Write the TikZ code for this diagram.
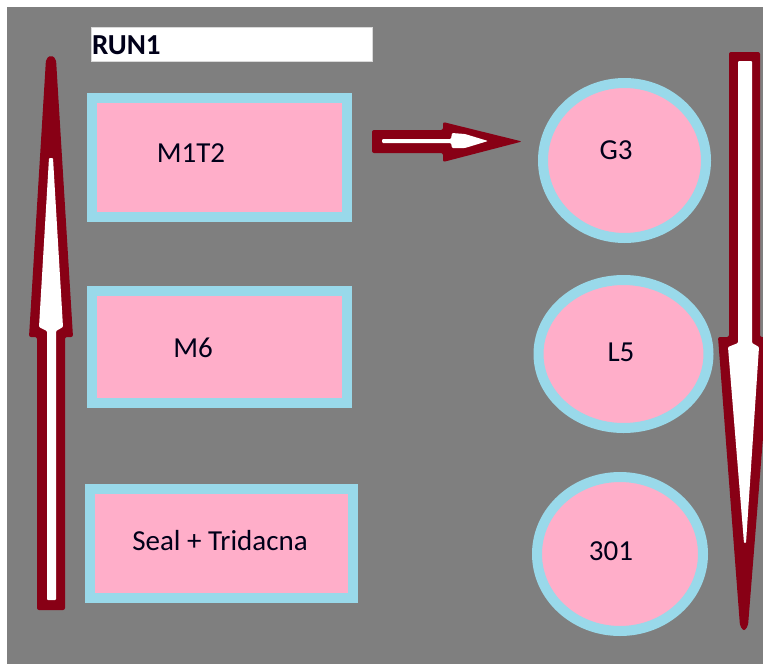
\documentclass[tikz,border=0pt]{standalone}
\usepackage{fontspec}
\setmainfont{Carlito}
\usetikzlibrary{shapes.geometric}
\definecolor{bggray}{HTML}{7F7F7F}
\definecolor{wine}{HTML}{880015}
\definecolor{rim}{HTML}{99D9EA}
\definecolor{blush}{HTML}{FFAEC9}
\tikzset{
  tile/.style={rectangle, draw=rim, fill=blush, line width=10pt, inner sep=0pt, outer sep=0pt},
  disc/.style={ellipse, draw=rim, fill=blush, line width=10pt, inner sep=0pt, outer sep=0pt},
  lbl/.style={inner sep=0pt, text=black!90!blue, font=\fontsize{29}{34}\selectfont},
  outerarrow/.style={fill=wine, rounded corners=2pt},
  innerarrow/.style={fill=white, rounded corners=1pt},
}
\begin{document}
\begin{tikzpicture}[x=1pt,y=-1pt]
% canvas
\useasboundingbox (0,0) rectangle (763,664);
\fill[white] (0,0) rectangle (763,664);
\fill[bggray] (7,7) rectangle (763,664);

% title strip
\node[rectangle, fill=white, draw=black!15, line width=0.6pt, minimum width=281pt, minimum height=34pt, inner sep=0pt] (titlebar) at (231.5,44) {};
\node[anchor=base west, inner sep=0pt, text=black!90!blue, font=\fontsize{29}{34}\selectfont\bfseries] (title) at (92,54.5) {RUN1};

% left column boxes
\node[tile, minimum width=255pt, minimum height=119pt] (m1t2box) at (219.5,157.5) {};
\node[lbl] (m1t2) at (191,153) {M1T2};
\node[tile, minimum width=255pt, minimum height=112pt] (m6box) at (219.5,347) {};
\node[lbl] (m6) at (193,348) {M6};
\node[tile, minimum width=263pt, minimum height=109pt] (sealbox) at (221.5,543.5) {};
\node[lbl] (seal) at (220,541) {Seal + Tridacna};

% right column discs
\node[disc, minimum width=163pt, minimum height=155pt] (g3disc) at (624.5,160.5) {};
\node[lbl] (g3) at (616,150) {G3};
\node[disc, minimum width=170pt, minimum height=148pt] (l5disc) at (623.5,354) {};
\node[lbl] (l5) at (621,352) {L5};
\node[disc, minimum width=166pt, minimum height=154pt] (c301disc) at (620,554) {};
\node[lbl] (c301) at (611,551) {301};

% upward arrow on the left
\fill[outerarrow] (37,610) -- (65,610) -- (65,337) -- (73,337) -- (56,59) -- (51,55) -- (46,59)
  -- (29,337) -- (37,337) -- cycle;
\fill[innerarrow] (47,600) -- (56,600) -- (56,331) -- (63,327) -- (53,158) -- (49,158)
  -- (39,327) -- (47,331) -- cycle;

% arrow from M1T2 towards G3
\fill[outerarrow] (372,130) -- (443,130) -- (443,122) -- (522,141.5) -- (443,162) -- (443,153)
  -- (372,153) -- cycle;
\fill[innerarrow] (382,139) -- (451,139) -- (452,133) -- (465,134) -- (488,141) -- (465,148)
  -- (452,148) -- (451,143) -- (382,143) -- cycle;

% downward arrow on the right
\fill[outerarrow] (729,52) -- (760,52) -- (760,337) -- (771,337) -- (748,626) -- (744,631) -- (740,626)
  -- (718,337) -- (729,337) -- cycle;
\fill[innerarrow] (738,61) -- (752,61) -- (752,343) -- (759,347) -- (746,543) -- (744,543)
  -- (728,347) -- (738,343) -- cycle;
\end{tikzpicture}
\end{document}
